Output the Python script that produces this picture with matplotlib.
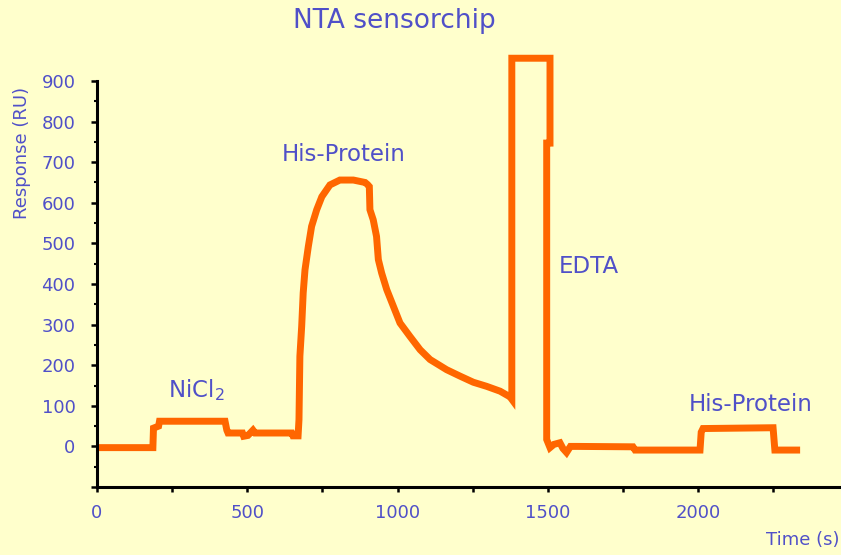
import numpy as np
import matplotlib.pyplot as plt
from matplotlib.ticker import MultipleLocator

# sensorgram: time (s) and response (RU)
time_s = [0, 186, 188, 205, 208, 426, 432, 436, 484, 488, 502, 510, 519, 526,
          648, 652, 669, 672, 675, 681, 686, 692, 703, 714, 731, 748, 775, 808,
          853, 892, 900, 906, 908, 919, 930, 936, 947, 964, 986, 1008, 1041,
          1075, 1108, 1163, 1208, 1252, 1296, 1341, 1374, 1380, 1380, 1507,
          1507, 1496, 1496, 1507, 1520, 1540, 1550, 1562, 1575, 1596, 1783,
          1790, 2006, 2010, 2016, 2249, 2255, 2339]
response = [-3, -3, 45, 50, 62, 62, 40, 33, 33, 25, 27, 33, 40, 33,
            33, 26, 26, 66, 222, 296, 378, 435, 492, 542, 583, 615, 644, 656,
            656, 650, 645, 640, 583, 558, 517, 460, 427, 386, 345, 304, 271,
            238, 214, 189, 173, 158, 148, 136, 122, 116, 956, 956,
            747, 747, 17, -3, 5, 9, -5, -15, 0, 0, -1,
            -9, -9, 35, 44, 46, -9, -9]

y_ticks = list(range(0, 1000, 100))
x_ticks = [0, 500, 1000, 1500, 2000]

labels = ['NiCl$_2$', 'His-Protein', 'EDTA', 'His-Protein']
label_x = [236, 614, 1537, 1969]
label_y = [138, 718, 443, 103]

bg = '#FFFFCC'
blue = '#5050C8'
orange = '#FF6600'

plt.rcParams['font.family'] = ['DejaVu Sans']
plt.rcParams['mathtext.fontset'] = 'dejavusans'

fig = plt.figure(figsize=(8.41, 5.55), dpi=100, facecolor=bg)
ax = fig.add_axes([0.1153, 0.1225, 0.8847, 0.7316], facecolor=bg)

ax.plot(time_s, response, color=orange, lw=5, solid_joinstyle='miter',
        solid_capstyle='butt', clip_on=False)

ax.set_xlim(0, 2475)
ax.set_ylim(-100, 900)

for s in ['top', 'right']:
    ax.spines[s].set_visible(False)
for s in ['left', 'bottom']:
    ax.spines[s].set_linewidth(2.2)
    ax.spines[s].set_color('black')

ax.set_yticks([-100] + y_ticks)
ax.set_yticklabels([''] + [str(v) for v in y_ticks])
ax.set_xticks(x_ticks)
ax.set_xticklabels([str(v) for v in x_ticks])
ax.yaxis.set_minor_locator(MultipleLocator(50))
ax.xaxis.set_minor_locator(MultipleLocator(250))

ax.tick_params(axis='y', which='major', length=4.5, width=1.8, pad=11,
               labelsize=13, labelcolor=blue, color='black')
ax.tick_params(axis='y', which='minor', length=2.5, width=1.5, color='black')
ax.tick_params(axis='x', which='major', length=3.5, width=1.8, pad=9,
               labelsize=13, labelcolor=blue, color='black')
ax.tick_params(axis='x', which='minor', length=3.5, width=1.8, color='black')

for lab, lx, ly in zip(labels, label_x, label_y):
    ax.text(lx, ly, lab, color=blue, fontsize=16.5, ha='left', va='center')

fig.text(394 / 841, 1 - 21 / 555, 'NTA sensorchip', color=blue, fontsize=19,
         ha='center', va='center')
fig.text(22 / 841, 1 - 153 / 555, 'Response (RU)', color=blue, fontsize=13,
         rotation=90, ha='center', va='center')
fig.text(839 / 841, 1 - 540 / 555, 'Time (s)', color=blue, fontsize=13,
         ha='right', va='center')

plt.savefig('out.png', dpi=100, facecolor=bg)
